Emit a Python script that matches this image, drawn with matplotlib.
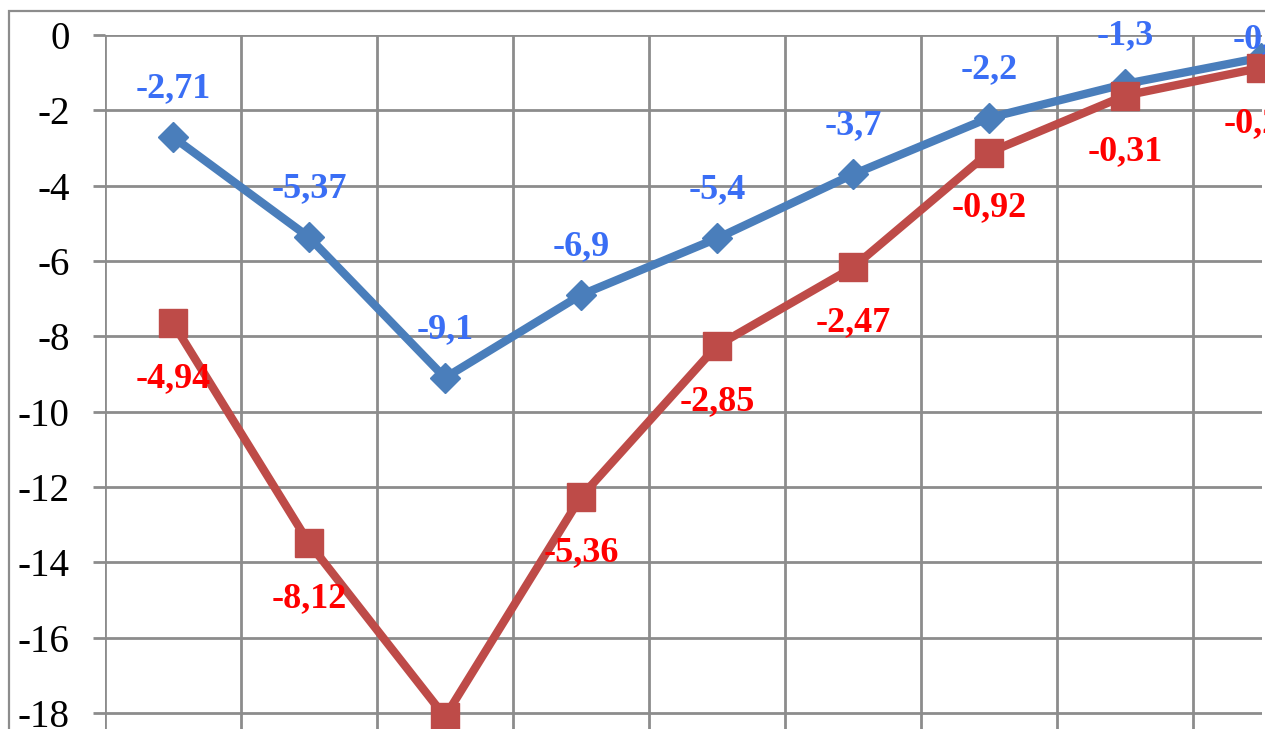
import numpy as np
import matplotlib.pyplot as plt
from matplotlib.patches import Rectangle

# values per point; the red series is stacked on top of the blue one
blue_vals = [-2.71, -5.37, -9.1, -6.9, -5.4, -3.7, -2.2, -1.3, -0.6]
red_vals = [-4.94, -8.12, -9.0, -5.36, -2.85, -2.47, -0.92, -0.31, -0.27]
yticks = [0, -2, -4, -6, -8, -10, -12, -14, -16, -18]

blue = np.array(blue_vals)
red_total = blue + np.array(red_vals)
x = np.arange(len(blue)) + 0.5

W, H = 1265, 729
fig = plt.figure(figsize=(W / 100, H / 100), dpi=100)
plt.rcParams['font.family'] = ['Liberation Serif', 'DejaVu Serif']

# outer chart border
fig.patches.append(Rectangle((9 / W, -0.1), 2, 1.1 - 11 / H,
                             transform=fig.transFigure, fill=False,
                             edgecolor='#8c8c8c', linewidth=1.6))

ax = fig.add_axes([105 / W, 0, (1262 - 105) / W, 1 - 35 / H])
px_per_unit = (713 - 35) / 18
ax.set_ylim(-(729 - 35) / px_per_unit, 0)
ax.set_xlim(0, (1262 - 105) / 136)

ax.set_yticks(yticks)
ax.set_yticklabels([str(t) for t in yticks], fontsize=28)
ax.set_xticks(np.arange(0, 9))
ax.tick_params(axis='x', length=0, labelbottom=False)
ax.tick_params(axis='y', direction='out', length=8.5, width=2,
               color='#8c8c8c', pad=17)
for s in ax.spines.values():
    s.set_visible(False)
ax.grid(True, color='#8c8c8c', linewidth=2)
ax.set_axisbelow(True)

ax.plot(x, blue, color='#4a7ebb', linewidth=6, marker='D', markersize=15.5,
        clip_on=False, zorder=3)
ax.plot(x, red_total, color='#be4b48', linewidth=6, marker='s', markersize=20.5,
        clip_on=False, zorder=4)

def fmt(v):
    return str(v).replace('.', ',')

for i, (xi, yi, v) in enumerate(zip(x, blue, blue_vals)):
    # the last label is pulled down so it stays inside the chart
    dy = 13 if i == len(x) - 1 else 35
    ax.annotate(fmt(v), (xi, yi), xytext=(0, dy),
                textcoords='offset points', ha='center', va='center',
                fontsize=26, fontweight='bold', color='#3a6ef5',
                annotation_clip=False, zorder=5)
for xi, yi, v in zip(x, red_total, red_vals):
    ax.annotate(fmt(v), (xi, yi), xytext=(0, -40),
                textcoords='offset points', ha='center', va='center',
                fontsize=26, fontweight='bold', color='#ff0000',
                annotation_clip=False, zorder=5)

fig.savefig('out.png', dpi=100)
